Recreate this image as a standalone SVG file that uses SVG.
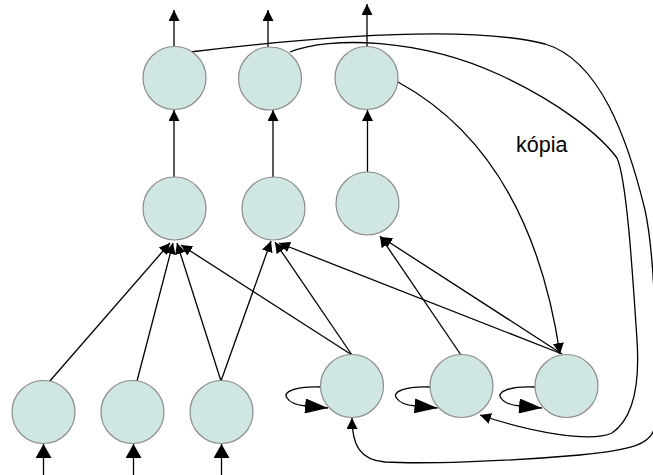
<svg xmlns="http://www.w3.org/2000/svg" width="653" height="475" viewBox="0 0 653 475">
  <style>
    .node { fill: #cfe6e3; stroke: #8c8c8c; stroke-width: 1.2; }
    .edge { fill: none; stroke: #000; stroke-width: 1.3; }
    .lbl { font-family: "Liberation Sans", Arial, sans-serif; font-size: 21.5px; fill: #000; }
  </style>
  <defs>
    <marker id="arr" markerUnits="userSpaceOnUse" markerWidth="11" markerHeight="11" viewBox="0 0 11 11" refX="11" refY="5.5" orient="auto">
      <path d="M0,0 L11,5.5 L0,11 z" fill="#000"/>
    </marker>
    <marker id="arrBig" markerUnits="userSpaceOnUse" markerWidth="14" markerHeight="16" viewBox="0 0 14 16" refX="14" refY="8" orient="auto">
      <path d="M0,0 L14,8 L0,16 z" fill="#000"/>
    </marker>
    <marker id="loopHead" markerUnits="userSpaceOnUse" markerWidth="23" markerHeight="15" viewBox="0 0 23 15" refX="23" refY="7.5" orient="auto">
      <path d="M0,0 L23,7.5 L0,15 z" fill="#000"/>
    </marker>
  </defs>

  <!-- connectors -->
  <g id="connectors" class="edge">
    <!-- inputs -->
    <line x1="43.5" y1="475" x2="43.5" y2="444" marker-end="url(#arrBig)"/>
    <line x1="133.5" y1="475" x2="133.5" y2="444" marker-end="url(#arrBig)"/>
    <line x1="221.5" y1="475" x2="221.5" y2="444" marker-end="url(#arrBig)"/>

    <!-- outputs -->
    <line x1="174" y1="47" x2="174" y2="10" marker-end="url(#arr)"/>
    <line x1="268" y1="47" x2="268" y2="10" marker-end="url(#arr)"/>
    <line x1="367" y1="47" x2="367" y2="4" marker-end="url(#arr)"/>

    <!-- middle to top -->
    <line x1="174" y1="177" x2="174" y2="110" marker-end="url(#arr)"/>
    <line x1="273" y1="177" x2="273" y2="110" marker-end="url(#arr)"/>
    <line x1="367.5" y1="172" x2="367.5" y2="110" marker-end="url(#arr)"/>

    <!-- bottom to middle -->
    <line x1="49" y1="382" x2="170" y2="243" marker-end="url(#arr)"/>
    <line x1="137" y1="381" x2="173" y2="243" marker-end="url(#arr)"/>
    <line x1="221" y1="381" x2="177" y2="243" marker-end="url(#arr)"/>
    <line x1="352" y1="355" x2="181" y2="245" marker-end="url(#arr)"/>
    <line x1="221" y1="381" x2="271" y2="241" marker-end="url(#arr)"/>
    <line x1="352" y1="355" x2="275" y2="242" marker-end="url(#arr)"/>
    <line x1="562" y1="354" x2="279" y2="243" marker-end="url(#arr)"/>
    <line x1="461" y1="355" x2="380" y2="236" marker-end="url(#arr)"/>
    <line x1="562" y1="354" x2="381" y2="237" marker-end="url(#arr)"/>

    <!-- copy connections -->
    <path d="M398,82 C495,135 542,234 560,354" marker-end="url(#arr)"/>
    <path d="M290,52 C330,36 420,38 500,75 C560,103 600,135 617,158 C627,180 633,280 637,340 C640,385 634,418 612,433 C590,443 530,432 480,415" marker-end="url(#arr)"/>
    <path d="M190,52 C330,35 470,25 545,44 C600,60 628,140 645,210 C656,260 658,380 655,425 C653,445 630,450 580,455 C500,462 420,464 385,462 C360,460 352,445 352,418" marker-end="url(#arr)"/>

    <!-- self loops -->
    <path d="M321,387 C295,386 282,392 287,398 C290,403 296,405 306,406 L328,408" marker-end="url(#loopHead)"/>
    <path d="M430.5,387 C404.5,386 391.5,392 396.5,398 C399.5,403 405.5,405 415.5,406 L437.5,408" marker-end="url(#loopHead)"/>
    <path d="M535,387 C509,386 496,392 501,398 C504,403 510,405 520,406 L542,408" marker-end="url(#loopHead)"/>
  </g>

  <!-- output layer -->
  <g id="t1"><circle class="node" cx="174.5" cy="78" r="31.5"/></g>
  <g id="t2"><circle class="node" cx="270" cy="78.5" r="31.5"/></g>
  <g id="t3"><circle class="node" cx="366.5" cy="78" r="31.5"/></g>

  <!-- hidden layer -->
  <g id="m1"><circle class="node" cx="174.5" cy="208.5" r="31.5"/></g>
  <g id="m2"><circle class="node" cx="273.5" cy="208.5" r="31.5"/></g>
  <g id="m3"><circle class="node" cx="367.5" cy="203.5" r="31.5"/></g>

  <!-- input layer -->
  <g id="b1"><circle class="node" cx="43.5" cy="412" r="31.5"/></g>
  <g id="b2"><circle class="node" cx="132.5" cy="412" r="31.5"/></g>
  <g id="b3"><circle class="node" cx="221.5" cy="412" r="31.5"/></g>

  <!-- context layer -->
  <g id="b4"><circle class="node" cx="352" cy="386" r="31.5"/></g>
  <g id="b5"><circle class="node" cx="461.5" cy="386" r="31.5"/></g>
  <g id="b6"><circle class="node" cx="566.5" cy="386" r="31.5"/></g>

  <g id="label"><text class="lbl" x="516" y="152">kópia</text></g>
</svg>
